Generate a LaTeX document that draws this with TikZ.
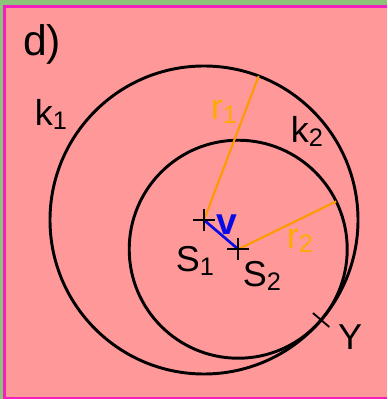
\documentclass[tikz,border=0pt]{standalone}
\usepackage{fontspec}
\setmainfont{Liberation Sans}
\usetikzlibrary{calc,shapes.misc}

\definecolor{panelpink}{RGB}{255,153,153}
\definecolor{framemag}{RGB}{245,30,190}
\definecolor{leafgreen}{RGB}{140,196,122}
\definecolor{radorange}{RGB}{255,153,0}
\definecolor{labelorange}{RGB}{255,170,0}
\definecolor{vecblue}{RGB}{10,10,230}

\newcommand\lowsub[1]{\raisebox{-3pt}{\fontsize{19}{21}\selectfont #1}}

\tikzset{
  circle line/.style={line width=2.2pt},
  radius line/.style={radorange,line width=1.6pt},
  vec line/.style={vecblue,line width=2pt},
  mark cross/.style={cross out,draw,line width=1.4pt,minimum size=10pt,inner sep=0pt,rotate=45},
  lbl/.style={inner sep=0pt},
}

\begin{document}
\begin{tikzpicture}[x=.75pt,y=.75pt,font=\fontsize{27}{30}\selectfont]
\useasboundingbox (0,0) rectangle (387,399);
% Panel background.
\fill[leafgreen] (0,0) rectangle (387,399);
\fill[panelpink] (4.5,0) rectangle (387,392.5);
\draw[framemag,line width=2.2pt] (387,392.5) -- (4.5,392.5) -- (4.5,1) -- (387,1);
% Centres and tangent point.
\coordinate (c1) at (204,179);
\coordinate (c2) at ($(c1)+(-40.5:45)$);
\coordinate (ytouch) at ($(c1)+(-40.5:154)$);
\coordinate (r1end) at ($(c1)+(69.2:154)$);
\coordinate (r2end) at ($(c2)+(26:109)$);
% Circles k1 and k2.
\draw[circle line] (c1) circle (154);
\draw[circle line] (c2) circle (109);
% Radii and shift vector.
\draw[radius line] (c1) -- (r1end);
\draw[radius line] (c2) -- (r2end);
\draw[vec line] (c1) -- (c2);
\node[mark cross] (S1) at (c1) {};
\node[mark cross] (S2) at (c2) {};
\node[mark cross,rotate=-40.5] (Y) at (ytouch) {};
% Labels.
\node[lbl,font=\fontsize{32}{36}\selectfont] (dlab) at (42,355) {d)};
\node[lbl] (k1lab) at (51,285) {k\lowsub{1}};
\node[lbl] (k2lab) at (307,268) {k\lowsub{2}};
\node[lbl,text=labelorange] (r1lab) at (224,287) {r\lowsub{1}};
\node[lbl,text=labelorange] (r2lab) at (300,158) {r\lowsub{2}};
\node[lbl,text=vecblue,font=\fontsize{28}{30}\selectfont\bfseries] (vlab) at (227,174) {v};
\node[lbl] (s1lab) at (195,138) {S\lowsub{1}};
\node[lbl] (s2lab) at (262,123) {S\lowsub{2}};
\node[lbl] (ylab) at (350,62) {Y};
\end{tikzpicture}
\end{document}
